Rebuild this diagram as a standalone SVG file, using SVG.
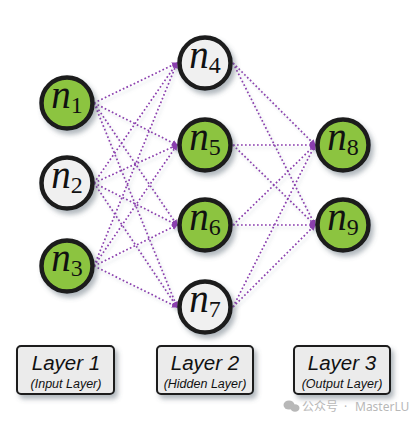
<svg xmlns="http://www.w3.org/2000/svg" width="416" height="422" viewBox="0 0 416 422">
<defs>
<filter id="sh" x="-30%" y="-30%" width="170%" height="170%">
<feDropShadow dx="3" dy="4" stdDeviation="2.5" flood-color="#556070" flood-opacity="0.45"/>
</filter>
<filter id="esh" x="-10%" y="-10%" width="120%" height="120%">
<feDropShadow dx="2" dy="3" stdDeviation="1.5" flood-color="#8090a0" flood-opacity="0.35"/>
</filter>
<marker id="ah" markerWidth="6" markerHeight="6" refX="5" refY="3" orient="auto" markerUnits="userSpaceOnUse">
<path d="M0,0 L6,3 L0,6 Z" fill="#8b3fae"/>
</marker>
<style>
.e{stroke:#8b3fae;stroke-width:1.7;stroke-dasharray:1.7 2.3;fill:none;marker-end:url(#ah)}
.n circle{stroke:#1b1b1b;stroke-width:4.5}
.g{fill:#8cc43f}
.w{fill:#f0f0f0}
.lbl{fill:#111;text-anchor:middle}
.v{font-style:italic;font-size:39px}
.s{font-size:24px}
.box rect{fill:#ebebeb;stroke:#1b1b1b;stroke-width:2}
.t1{font-style:italic;font-size:20.5px;fill:#111;text-anchor:middle}
.t2{font-style:italic;font-size:12.5px;fill:#111;text-anchor:middle}
</style>
</defs>
<rect width="416" height="422" fill="#ffffff"/>
<g id="connectors" filter="url(#esh)">
<line class="e" x1="94" y1="103" x2="177" y2="63"/>
<line class="e" x1="94" y1="103" x2="177" y2="145"/>
<line class="e" x1="94" y1="103" x2="177" y2="225"/>
<line class="e" x1="94" y1="103" x2="177" y2="307"/>
<line class="e" x1="94" y1="183" x2="177" y2="63"/>
<line class="e" x1="94" y1="183" x2="177" y2="145"/>
<line class="e" x1="94" y1="183" x2="177" y2="225"/>
<line class="e" x1="94" y1="183" x2="177" y2="307"/>
<line class="e" x1="94" y1="266" x2="177" y2="63"/>
<line class="e" x1="94" y1="266" x2="177" y2="145"/>
<line class="e" x1="94" y1="266" x2="177" y2="225"/>
<line class="e" x1="94" y1="266" x2="177" y2="307"/>
<line class="e" x1="233" y1="63" x2="315" y2="145"/>
<line class="e" x1="233" y1="63" x2="315" y2="225"/>
<line class="e" x1="233" y1="145" x2="315" y2="145"/>
<line class="e" x1="233" y1="145" x2="315" y2="225"/>
<line class="e" x1="233" y1="225" x2="315" y2="145"/>
<line class="e" x1="233" y1="225" x2="315" y2="225"/>
<line class="e" x1="233" y1="307" x2="315" y2="145"/>
<line class="e" x1="233" y1="307" x2="315" y2="225"/>
</g>
<g id="n1" class="n"><circle class="g" cx="67" cy="103" r="25.5" filter="url(#sh)"/><text class="lbl" font-family="Liberation Serif, serif" x="67" y="108"><tspan class="v">n</tspan><tspan class="s" dy="5">1</tspan></text></g>
<g id="n2" class="n"><circle class="w" cx="67" cy="183" r="25.5" filter="url(#sh)"/><text class="lbl" font-family="Liberation Serif, serif" x="67" y="188"><tspan class="v">n</tspan><tspan class="s" dy="5">2</tspan></text></g>
<g id="n3" class="n"><circle class="g" cx="67" cy="266" r="25.5" filter="url(#sh)"/><text class="lbl" font-family="Liberation Serif, serif" x="67" y="271"><tspan class="v">n</tspan><tspan class="s" dy="5">3</tspan></text></g>
<g id="n4" class="n"><circle class="w" cx="205" cy="63" r="25.5" filter="url(#sh)"/><text class="lbl" font-family="Liberation Serif, serif" x="205" y="68"><tspan class="v">n</tspan><tspan class="s" dy="5">4</tspan></text></g>
<g id="n5" class="n"><circle class="g" cx="205" cy="145" r="25.5" filter="url(#sh)"/><text class="lbl" font-family="Liberation Serif, serif" x="205" y="150"><tspan class="v">n</tspan><tspan class="s" dy="5">5</tspan></text></g>
<g id="n6" class="n"><circle class="g" cx="205" cy="225" r="25.5" filter="url(#sh)"/><text class="lbl" font-family="Liberation Serif, serif" x="205" y="230"><tspan class="v">n</tspan><tspan class="s" dy="5">6</tspan></text></g>
<g id="n7" class="n"><circle class="w" cx="205" cy="307" r="25.5" filter="url(#sh)"/><text class="lbl" font-family="Liberation Serif, serif" x="205" y="312"><tspan class="v">n</tspan><tspan class="s" dy="5">7</tspan></text></g>
<g id="n8" class="n"><circle class="g" cx="343" cy="145" r="25.5" filter="url(#sh)"/><text class="lbl" font-family="Liberation Serif, serif" x="343" y="150"><tspan class="v">n</tspan><tspan class="s" dy="5">8</tspan></text></g>
<g id="n9" class="n"><circle class="g" cx="343" cy="225" r="25.5" filter="url(#sh)"/><text class="lbl" font-family="Liberation Serif, serif" x="343" y="230"><tspan class="v">n</tspan><tspan class="s" dy="5">9</tspan></text></g>
<g id="layer1" class="box"><rect x="17" y="346" width="97" height="48" rx="4" filter="url(#sh)"/><text class="t1" font-family="Liberation Sans, sans-serif" x="66" y="370">Layer 1</text><text class="t2" font-family="Liberation Sans, sans-serif" x="66" y="388">(Input Layer)</text></g>
<g id="layer2" class="box"><rect x="157" y="346" width="96" height="48" rx="4" filter="url(#sh)"/><text class="t1" font-family="Liberation Sans, sans-serif" x="205" y="370">Layer 2</text><text class="t2" font-family="Liberation Sans, sans-serif" x="205" y="388">(Hidden Layer)</text></g>
<g id="layer3" class="box"><rect x="294" y="346" width="96" height="48" rx="4" filter="url(#sh)"/><text class="t1" font-family="Liberation Sans, sans-serif" x="342" y="370">Layer 3</text><text class="t2" font-family="Liberation Sans, sans-serif" x="342" y="388">(Output Layer)</text></g>
<g id="watermark" fill="#b8b8b8">
<ellipse cx="289" cy="405" rx="5.5" ry="4.5"/>
<ellipse cx="295" cy="408" rx="4.5" ry="3.8"/>
<text x="302" y="411" font-family="Noto Sans CJK SC, sans-serif" font-size="12">公众号</text>
<text x="344" y="411" font-family="Noto Sans, sans-serif" font-size="12">·</text>
<text x="355" y="411" font-family="Noto Sans, sans-serif" font-size="12">MasterLU</text>
</g>
</svg>
